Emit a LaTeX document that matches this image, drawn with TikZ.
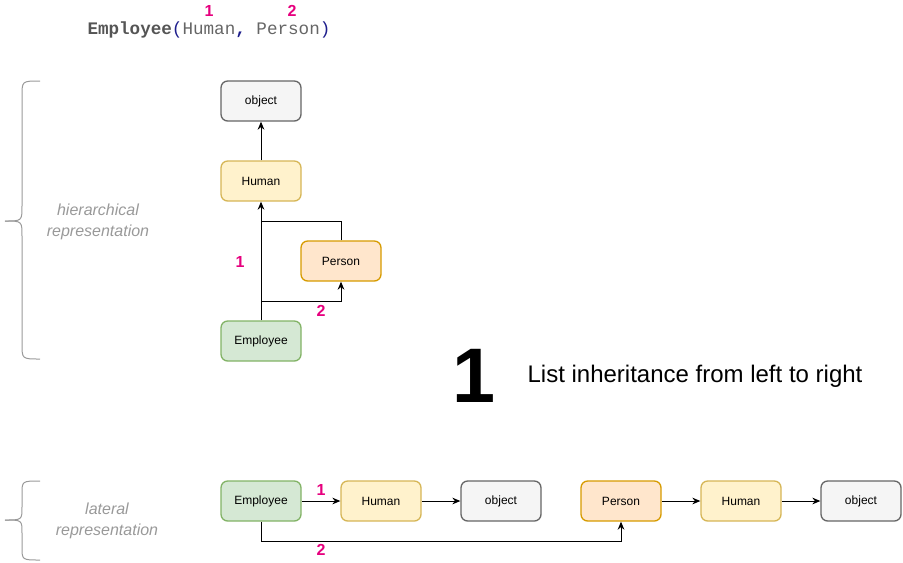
\documentclass[tikz,border=0pt]{standalone}
\usepackage{fontspec}
\setmainfont{Liberation Sans}
\setmonofont{Liberation Mono}
\usetikzlibrary{arrows.meta}

\definecolor{objfill}{RGB}{245,245,245}
\definecolor{objdraw}{RGB}{102,102,102}
\definecolor{humfill}{RGB}{255,242,204}
\definecolor{humdraw}{RGB}{214,182,86}
\definecolor{perfill}{RGB}{255,230,204}
\definecolor{perdraw}{RGB}{215,155,0}
\definecolor{empfill}{RGB}{213,232,212}
\definecolor{empdraw}{RGB}{130,179,102}
\definecolor{numpink}{RGB}{230,0,126}
\definecolor{bracegray}{RGB}{153,153,153}
\definecolor{codegray}{RGB}{85,85,85}
\definecolor{codenavy}{RGB}{30,30,140}

\tikzset{every picture/.style={line width=0.75pt}}
\tikzset{
  classbox/.style={rounded corners=5, line width=1pt, minimum width=60pt, minimum height=30pt, font=\fontsize{9}{10}\selectfont},
  objbox/.style={classbox, fill=objfill, draw=objdraw},
  humbox/.style={classbox, fill=humfill, draw=humdraw},
  perbox/.style={classbox, fill=perfill, draw=perdraw},
  empbox/.style={classbox, fill=empfill, draw=empdraw},
  numlabel/.style={text=numpink, font=\bfseries\fontsize{12}{14}\selectfont},
  repnote/.style={text=bracegray, font=\itshape\fontsize{12}{15.5}\selectfont, align=center},
  inherit/.style={-{Stealth[length=6pt,width=5pt]}}
}

\begin{document}
\begin{tikzpicture}[x=0.75pt,y=0.75pt,yscale=-1,xscale=1]
	\useasboundingbox (0,0) rectangle (903,562);

	% code line
	\node [anchor=west, inner sep=0pt] (code) at (87,30) {\ttfamily\fontsize{13.2}{15}\selectfont\textcolor{codegray}{\bfseries Employee}\textcolor{codenavy}{(}\textcolor{objdraw}{Human}\textcolor{codenavy}{\bfseries ,} \textcolor{objdraw}{Person}\textcolor{codenavy}{)}};
	\node [numlabel] (codeone) at (209,11) {1};
	\node [numlabel] (codetwo) at (292,11) {2};

	% hierarchical
	\node [objbox] (obj1) at (261,101) {object};
	\node [humbox] (hum1) at (261,181) {Human};
	\node [perbox] (per1) at (341,261) {Person};
	\node [empbox] (emp1) at (261,341) {Employee};
	\coordinate (split1) at (261,301);
	\coordinate (join1) at (261,221);

	\draw [inherit] (hum1) -- (obj1);
	\draw [inherit] (emp1) -- (hum1);
	\draw [inherit] (split1) -| (per1);
	\draw (per1) |- (join1);

	\node [numlabel] (hone) at (240,262) {1};
	\node [numlabel] (htwo) at (321,311) {2};

	% braces
	\draw [bracegray] (40,81) .. controls (22,81) .. (22,96) -- (22,206) .. controls (22,221) .. (5,221);
	\draw [bracegray] (5,221) .. controls (22,221) .. (22,236) -- (22,344) .. controls (22,359) .. (40,359);
	\draw [bracegray] (40,481) .. controls (22,481) .. (22,494) -- (22,507) .. controls (22,520) .. (5,520);
	\draw [bracegray] (5,520) .. controls (22,520) .. (22,533) -- (22,547) .. controls (22,560) .. (40,560);
	\node [repnote] (hiernote) at (98,222) {hierarchical\\representation};
	\node [repnote] (latnote) at (107,521) {lateral\\representation};

	% rule
	\node [font=\bfseries\fontsize{58}{60}\selectfont] (bigone) at (474,376) {1};
	\node [font=\fontsize{18}{21}\selectfont] (rule) at (695,376) {List inheritance from left to right};

	% lateral
	\node [empbox] (emp2) at (261,501) {Employee};
	\node [humbox] (hum2) at (381,501) {Human};
	\node [objbox] (obj2) at (501,501) {object};
	\node [perbox] (per2) at (621,501) {Person};
	\node [humbox] (hum3) at (741,501) {Human};
	\node [objbox] (obj3) at (861,501) {object};
	\coordinate (split2) at (261,541);

	\draw [inherit] (emp2) -- (hum2);
	\draw [inherit] (hum2) -- (obj2);
	\draw [inherit] (per2) -- (hum3);
	\draw [inherit] (hum3) -- (obj3);
	\draw [inherit] (emp2) -- (split2) -| (per2);

	\node [numlabel] (lone) at (321,490) {1};
	\node [numlabel] (ltwo) at (321,550) {2};

\end{tikzpicture}
\end{document}
